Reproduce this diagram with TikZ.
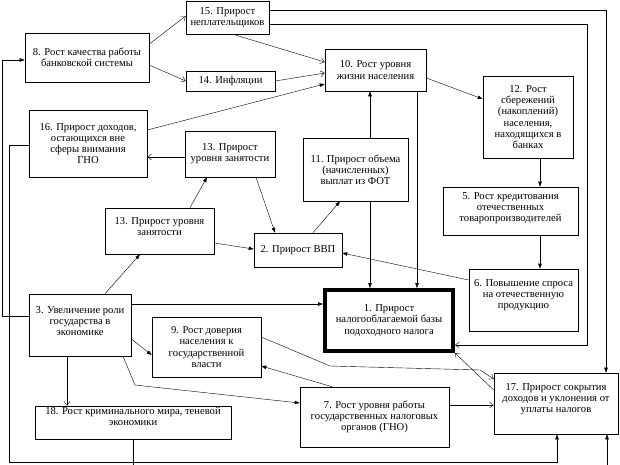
\documentclass[tikz,border=0pt]{standalone}
\usepackage{fontspec}
\setmainfont{Liberation Serif}
\usetikzlibrary{arrows.meta}

\begin{document}
\begin{tikzpicture}[x=1pt,y=-1pt,
  my box/.style={draw, line width=0.6pt, align=center, inner sep=1pt,
    font=\fontsize{10.6}{11.2}\selectfont},
  my fill/.style={-{Triangle[length=5pt,width=3.5pt]}, line width=0.4pt},
  my open/.style={-{Straight Barb[length=4pt,width=6pt]}, line width=0.4pt}]
  \useasboundingbox (0,0) rectangle (620,464);
  % boxes
  \node[my box, minimum width=83pt, minimum height=33pt] (b15) at (227.5,17.5) {15. Прирост\\неплательщиков};
  \node[my box, minimum width=124pt, minimum height=49pt] (b8) at (87,57.5) {8. Рост качества работы\\банковской системы};
  \node[my box, minimum width=89pt, minimum height=20pt] (b14) at (230.5,81) {14. Инфляции};
  \node[my box, minimum width=101pt, minimum height=42pt] (b10) at (375.5,70) {10. Рост уровня\\жизни населения};
  \node[my box, minimum width=90pt, minimum height=82pt] (b12) at (528,117) {12. Рост\\сбережений\\(накоплений)\\населения,\\находящихся в\\банках};
  \node[my box, minimum width=118pt, minimum height=67pt] (b16) at (88,143.5) {16. Прирост доходов,\\остающихся вне\\сферы внимания\\ГНО};
  \node[my box, minimum width=90pt, minimum height=46pt] (b13a) at (230,154) {13. Прирост\\уровня занятости};
  \node[my box, minimum width=105pt, minimum height=63pt] (b11) at (355.5,169.5) {11. Прирост объема\\(начисленных)\\выплат из ФОТ};
  \node[my box, minimum width=135pt, minimum height=48pt, text depth=8.5pt] (b5) at (510.5,211) {5. Рост кредитования\\отечественных\\товаропроизводителей};
  \node[my box, minimum width=109pt, minimum height=46pt, text depth=9.5pt] (b13b) at (159.5,231) {13. Прирост уровня\\занятости};
  \node[my box, minimum width=88pt, minimum height=34pt] (b2) at (298,250) {2. Прирост ВВП};
  \node[my box, minimum width=109pt, minimum height=62pt, text depth=12.5pt] (b6) at (523.5,300) {6. Повышение спроса\\на отечественную\\продукцию};
  \node[my box, minimum width=102pt, minimum height=62pt, text depth=8.5pt] (b3) at (80,325) {3. Увеличение роли\\государства в\\экономике};
  \node[my box, line width=4pt, minimum width=128pt, minimum height=61pt] (b1) at (389,320.5) {1. Прирост\\налогооблагаемой базы\\подоходного налога};
  \node[my box, minimum width=109pt, minimum height=60pt] (b9) at (206.5,347) {9. Рост доверия\\населения к\\государственной\\власти};
  \node[my box, minimum width=124pt, minimum height=61pt, text depth=10.5pt] (b17) at (556,403.5) {17. Прирост сокрытия\\доходов и уклонения от\\уплаты налогов};
  \node[my box, minimum width=149pt, minimum height=60pt] (b7) at (374.5,417) {7. Рост уровня работы\\государственных налоговых\\органов (ГНО)};
  \node[my box, minimum width=196pt, minimum height=33pt, text depth=12.5pt] (b18) at (133,422.5) {18. Рост криминального мира, теневой\\экономики};
  % links
  \draw[my open] (b8.east |- 0,44) -- (b15.west |- 0,16);
  \draw[my open] (b8.east |- 0,65) -- (b14.west |- 0,81);
  \draw[my open] (b15.south -| 233,0) -- (b10.west |- 0,62);
  \draw[my open] (b14.east) -- (b10.west |- 0,73);
  \draw[my fill] (b16.east |- 0,130) -- (b10.west |- 0,84);
  \draw[my fill] (b10.east |- 0,78) -- (b12.west |- 0,99);
  \draw[my fill] (b11.north -| 370,0) -- (b10.south -| 370,0);
  \draw[my fill] (b10.south -| 417,0) -- (b1.north -| 417,0);
  \draw[my fill] (b11.south -| 370,0) -- (b1.north -| 370,0);
  \draw[my fill] (b12.south -| 540,0) -- (b5.north -| 540,0);
  \draw[my fill] (b5.south -| 540,0) -- (b6.north -| 540,0);
  \draw[my fill] (b6.west |- 0,280) -- (b2.east |- 0,253);
  \draw[my fill] (b2.north -| 313,0) -- (b11.south -| 340,0);
  \draw[my fill] (b13a.south -| 256,0) -- (b2.north -| 275,0);
  \draw[my open] (b13a.west |- 0,157) -- (b16.east |- 0,157);
  \draw[my fill] (b13b.north -| 190,0) -- (b13a.south -| 207,0);
  \draw[my fill] (b13b.east |- 0,243) -- (b2.west |- 0,249);
  \draw[my fill] (b3.north -| 105,0) -- (b13b.south -| 140,0);
  \draw[my fill] (b3.east |- 0,304) -- (b1.west |- 0,304);
  \draw[my fill] (b3.east |- 0,339) -- (b9.west |- 0,355);
  \draw[my open] (b3.south -| 67,0) -- (b18.north -| 67,0);
  \draw[my fill] (b3.south -| 123,0) -- (135,385) -- (b7.west |- 0,403);
  \draw[my fill] (b3.west |- 0,316) -| (2,60) -- (b8.west |- 0,60);
  \draw[my fill] (b16.west |- 0,145) -| (9,462) -| (b17.south -| 557,0);
  \draw[my fill] (b18.south) -- (133,470) -| (b17.south -| 607,0);
  \draw[my fill] (b15.east |- 0,10) -| (b17.north -| 606,0);
  \draw[my open] (b15.east |- 0,24) -| (587,345) -- (b1.east |- 0,345);
  \draw[my open] (b9.east |- 0,337) -- (330,366) -- (480,370) -- (b17.west |- 0,379);
  \draw[my fill] (b7.north -| 332,0) -- (b9.east |- 0,366);
  \draw[my open] (b7.east |- 0,405) -- (b17.west |- 0,405);
  \draw[my open] (b17.west |- 0,390) -- (b1.south east);
\end{tikzpicture}
\end{document}
